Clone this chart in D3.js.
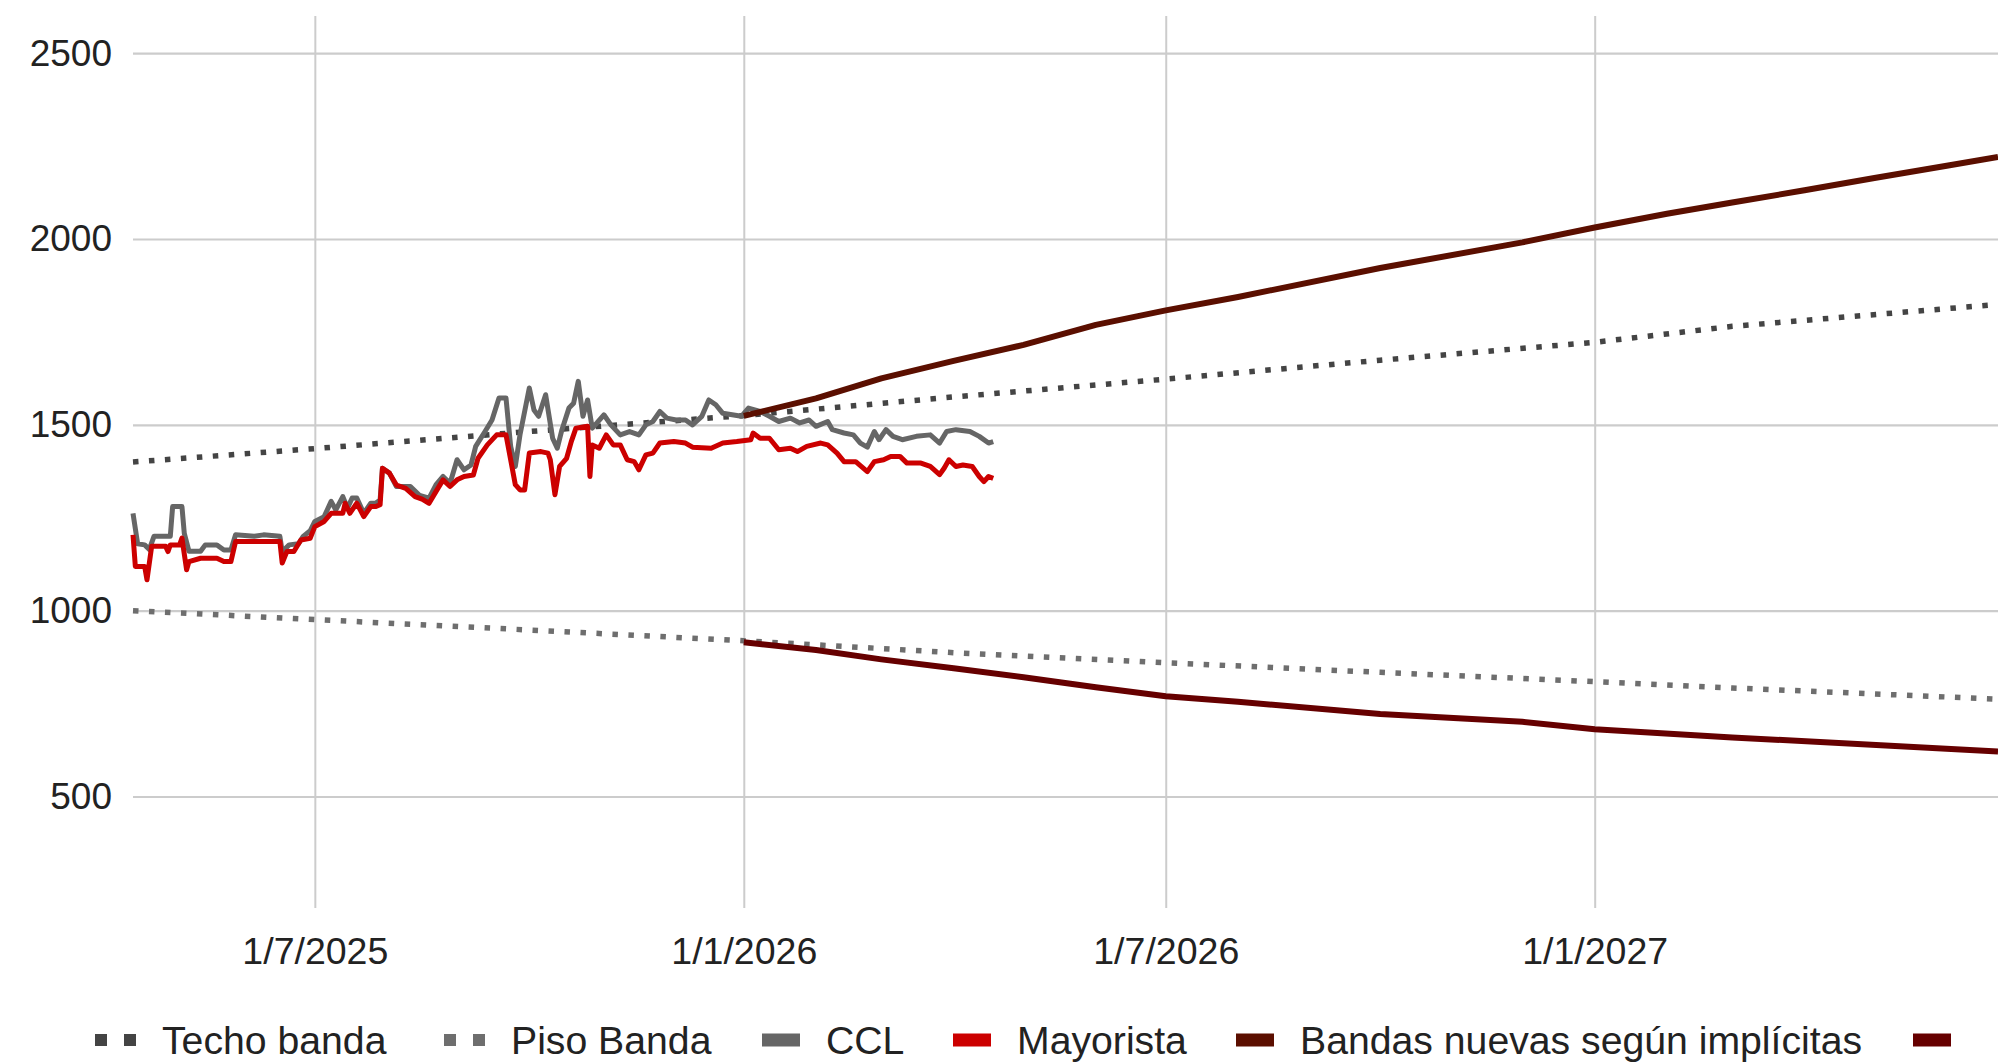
<!DOCTYPE html>
<html><head><meta charset="utf-8">
<script src="https://cdn.jsdelivr.net/npm/d3@7"></script>
<style>html,body{margin:0;padding:0;background:#fff;overflow:hidden}</style>
</head><body>
<svg id="chart" width="1998" height="1062"></svg>
<script>
// ---------------- DATA ----------------
const yTickValues = [500, 1000, 1500, 2000, 2500];
const xTickDates = ["2025-07-01", "2026-01-01", "2026-07-01", "2027-01-01"];
const xDomain = ["2025-04-14", "2027-06-23"];
const yDomain = [200, 2600];

const seriesNames = ["Techo banda", "Piso Banda", "CCL", "Mayorista", "Bandas nuevas según implícitas", ""];

const techoBanda = [
  ["2025-04-14",1400],["2025-07-01",1436],["2025-10-01",1482],["2026-01-01",1525],
  ["2026-04-01",1575],["2026-07-01",1623],["2026-10-01",1674],["2027-01-01",1722],
  ["2027-03-01",1765],["2027-06-23",1824]
];
const pisoBanda = [
  ["2025-04-14",1000],["2025-07-01",976],["2025-10-01",948],["2026-01-01",919],
  ["2026-04-01",887],["2026-07-01",860],["2026-10-01",834],["2027-01-01",809],
  ["2027-03-01",792],["2027-06-23",762]
];
const ccl = [
  ["2025-04-14",1262],["2025-04-16",1180],["2025-04-19",1177],["2025-04-21",1165],["2025-04-23",1200],
  ["2025-04-30",1200],["2025-05-01",1280],["2025-05-05",1280],["2025-05-06",1208],["2025-05-08",1160],
  ["2025-05-13",1160],["2025-05-15",1177],["2025-05-20",1177],["2025-05-23",1163],["2025-05-26",1163],
  ["2025-05-28",1204],["2025-06-05",1200],["2025-06-09",1204],["2025-06-16",1200],["2025-06-17",1159],
  ["2025-06-20",1177],["2025-06-24",1180],["2025-06-26",1200],["2025-06-29",1215],["2025-07-01",1240],
  ["2025-07-05",1253],["2025-07-08",1294],["2025-07-10",1271],["2025-07-13",1307],["2025-07-15",1276],
  ["2025-07-17",1303],["2025-07-19",1303],["2025-07-22",1262],["2025-07-25",1289],["2025-07-27",1289],
  ["2025-07-29",1298],["2025-07-30",1383],["2025-08-02",1370],["2025-08-05",1334],["2025-08-11",1334],
  ["2025-08-15",1310],["2025-08-19",1303],["2025-08-22",1339],["2025-08-25",1361],["2025-08-28",1343],
  ["2025-08-31",1406],["2025-09-03",1379],["2025-09-06",1392],["2025-09-08",1442],["2025-09-12",1482],
  ["2025-09-15",1513],["2025-09-18",1572],["2025-09-21",1572],["2025-09-23",1442],["2025-09-25",1388],
  ["2025-09-27",1473],["2025-10-01",1599],["2025-10-03",1540],["2025-10-05",1523],["2025-10-08",1581],
  ["2025-10-11",1464],["2025-10-13",1437],["2025-10-15",1487],["2025-10-18",1545],["2025-10-20",1558],
  ["2025-10-22",1617],["2025-10-24",1523],["2025-10-26",1567],["2025-10-28",1491],["2025-10-30",1505],
  ["2025-11-02",1527],["2025-11-05",1500],["2025-11-09",1473],["2025-11-13",1482],["2025-11-17",1473],
  ["2025-11-20",1500],["2025-11-23",1509],["2025-11-26",1536],["2025-11-29",1518],["2025-12-03",1513],
  ["2025-12-07",1513],["2025-12-10",1500],["2025-12-14",1523],["2025-12-17",1567],["2025-12-20",1554],
  ["2025-12-23",1531],["2025-12-27",1527],["2025-12-31",1523],["2026-01-03",1545],["2026-01-08",1536],
  ["2026-01-12",1523],["2026-01-16",1509],["2026-01-21",1518],["2026-01-25",1505],["2026-01-29",1513],
  ["2026-02-01",1496],["2026-02-06",1509],["2026-02-08",1487],["2026-02-13",1478],["2026-02-17",1473],
  ["2026-02-20",1451],["2026-02-23",1440],["2026-02-26",1482],["2026-02-28",1460],["2026-03-03",1487],
  ["2026-03-06",1469],["2026-03-10",1460],["2026-03-16",1469],["2026-03-22",1473],["2026-03-26",1451],
  ["2026-03-29",1482],["2026-04-02",1487],["2026-04-08",1482],["2026-04-12",1469],["2026-04-16",1451],
  ["2026-04-18",1455]
];
const mayorista = [
  ["2025-04-14",1204],["2025-04-15",1119],["2025-04-19",1119],["2025-04-20",1083],["2025-04-22",1173],
  ["2025-04-28",1173],["2025-04-29",1159],["2025-04-30",1177],["2025-05-04",1177],["2025-05-05",1195],
  ["2025-05-07",1110],["2025-05-08",1132],["2025-05-13",1141],["2025-05-20",1141],["2025-05-23",1132],
  ["2025-05-26",1132],["2025-05-28",1186],["2025-06-16",1186],["2025-06-17",1128],["2025-06-19",1159],
  ["2025-06-22",1159],["2025-06-25",1190],["2025-06-29",1195],["2025-07-01",1226],["2025-07-05",1240],
  ["2025-07-08",1262],["2025-07-13",1262],["2025-07-14",1289],["2025-07-16",1262],["2025-07-19",1289],
  ["2025-07-22",1253],["2025-07-25",1280],["2025-07-27",1280],["2025-07-29",1285],["2025-07-30",1383],
  ["2025-08-02",1370],["2025-08-05",1338],["2025-08-09",1329],["2025-08-13",1307],["2025-08-16",1300],
  ["2025-08-19",1289],["2025-08-22",1321],["2025-08-25",1352],["2025-08-28",1334],["2025-08-31",1352],
  ["2025-09-03",1361],["2025-09-07",1365],["2025-09-09",1410],["2025-09-13",1446],["2025-09-17",1473],
  ["2025-09-21",1473],["2025-09-23",1406],["2025-09-25",1339],["2025-09-27",1325],["2025-09-29",1325],
  ["2025-10-01",1424],["2025-10-06",1428],["2025-10-09",1424],["2025-10-10",1406],["2025-10-12",1312],
  ["2025-10-14",1388],["2025-10-17",1410],["2025-10-19",1455],["2025-10-21",1491],["2025-10-26",1496],
  ["2025-10-27",1361],["2025-10-28",1446],["2025-10-31",1437],["2025-11-03",1473],["2025-11-06",1446],
  ["2025-11-09",1446],["2025-11-12",1406],["2025-11-15",1401],["2025-11-17",1379],["2025-11-20",1419],
  ["2025-11-23",1424],["2025-11-26",1451],["2025-12-02",1455],["2025-12-07",1451],["2025-12-10",1440],
  ["2025-12-18",1437],["2025-12-23",1451],["2025-12-29",1455],["2026-01-04",1460],["2026-01-05",1478],
  ["2026-01-08",1464],["2026-01-12",1464],["2026-01-16",1433],["2026-01-21",1437],["2026-01-24",1428],
  ["2026-01-28",1442],["2026-02-03",1451],["2026-02-06",1446],["2026-02-10",1424],["2026-02-13",1401],
  ["2026-02-18",1401],["2026-02-23",1374],["2026-02-26",1401],["2026-03-02",1406],["2026-03-05",1415],
  ["2026-03-09",1415],["2026-03-12",1397],["2026-03-18",1397],["2026-03-22",1388],["2026-03-26",1366],
  ["2026-03-28",1384],["2026-03-30",1406],["2026-04-02",1388],["2026-04-05",1392],["2026-04-09",1388],
  ["2026-04-12",1361],["2026-04-14",1347],["2026-04-16",1361],["2026-04-18",1356]
];
const bandaNuevaTecho = [
  ["2026-01-01",1524],["2026-02-01",1571],["2026-03-01",1625],["2026-04-01",1672],["2026-05-01",1715],
  ["2026-06-01",1769],["2026-07-01",1808],["2026-08-01",1844],["2026-10-01",1922],["2026-12-01",1991],
  ["2027-01-01",2031],["2027-02-01",2068],["2027-03-01",2098],["2027-04-01",2131],["2027-05-01",2164],
  ["2027-06-01",2197],["2027-06-23",2221]
];
const bandaNuevaPiso = [
  ["2026-01-01",915],["2026-02-01",894],["2026-03-01",869],["2026-04-01",845],["2026-05-01",821],
  ["2026-06-01",794],["2026-07-01",770],["2026-08-01",755],["2026-10-01",722],["2026-12-01",701],
  ["2027-01-01",681],["2027-03-01",659],["2027-06-23",621]
];

// ---------------- CHART ----------------
const parse = d3.timeParse("%Y-%m-%d");
const FONT = "'Liberation Sans', Arial, Helvetica, sans-serif";
const svg = d3.select("#chart");
svg.append("rect").attr("width",1998).attr("height",1062).attr("fill","#fff");

const plotL = 133, plotR = 1998, plotT = 16, plotB = 908;
const x = d3.scaleTime().domain(xDomain.map(parse)).range([plotL, plotR]);
const y = d3.scaleLinear().domain(yDomain).range([plotB, plotT]);

// Y axis with horizontal gridlines
const yAxis = svg.append("g").attr("transform", `translate(${plotL},0)`)
  .call(d3.axisLeft(y).tickValues(yTickValues).tickSize(-(plotR-plotL)).tickPadding(21).tickFormat(d3.format("d")));
yAxis.select(".domain").remove();
yAxis.selectAll(".tick line").attr("stroke","#cccccc").attr("stroke-width",2.2);
yAxis.selectAll(".tick text").attr("fill","#222").style("font-family",FONT).style("font-size","37px");

// X axis with vertical gridlines
const fmt = d => `${d.getDate()}/${d.getMonth()+1}/${d.getFullYear()}`;
const xAxis = svg.append("g").attr("transform", `translate(0,${plotB})`)
  .call(d3.axisBottom(x).tickValues(xTickDates.map(parse)).tickSize(-(plotB-plotT)).tickPadding(29).tickFormat(fmt));
xAxis.select(".domain").remove();
xAxis.selectAll(".tick line").attr("stroke","#cccccc").attr("stroke-width",2);
xAxis.selectAll(".tick text").attr("fill","#222").style("font-family",FONT).style("font-size","37.5px");

const line = d3.line().x(d => x(parse(d[0]))).y(d => y(d[1]));

const styles = [
  {data: techoBanda, color:"#444444", width:5.5, dash:"5.5,10.5", name: seriesNames[0], dotted:true},
  {data: pisoBanda, color:"#6e6e6e", width:5.5, dash:"5.5,10.5", name: seriesNames[1], dotted:true},
  {data: ccl, color:"#666666", width:5, dash:null, name: seriesNames[2]},
  {data: mayorista, color:"#cc0000", width:5, dash:null, name: seriesNames[3]},
  {data: bandaNuevaTecho, color:"#5b0f00", width:6, dash:null, name: seriesNames[4]},
  {data: bandaNuevaPiso, color:"#660000", width:6, dash:null, name: seriesNames[5]}
];

const lines = svg.append("g");
styles.forEach(s => {
  lines.append("path").datum(s.data)
    .attr("d", line)
    .attr("fill","none")
    .attr("stroke", s.color)
    .attr("stroke-width", s.width)
    .attr("stroke-linejoin","round")
    .attr("stroke-linecap","butt")
    .attr("stroke-dasharray", s.dash);
});

// Legend (item start positions follow the reference layout)
const legendX = [95, 444, 762, 953, 1236, 1913];
const legend = svg.append("g").attr("transform","translate(0,1040)");
styles.forEach((s, i) => {
  const g = legend.append("g");
  const cx = legendX[i];
  let mw;
  if (s.dotted) {
    g.append("rect").attr("x",cx).attr("y",-6).attr("width",12).attr("height",12).attr("fill",s.color);
    g.append("rect").attr("x",cx+29).attr("y",-6).attr("width",12).attr("height",12).attr("fill",s.color);
    mw = 41;
  } else {
    g.append("rect").attr("x",cx).attr("y",-6.5).attr("width",38).attr("height",13).attr("fill",s.color);
    mw = 38;
  }
  if (s.name) {
    g.append("text").attr("x", cx + mw + 26).attr("y", 0).attr("dy","0.35em")
      .attr("fill","#222").style("font-family",FONT).style("font-size","39.2px").text(s.name);
  }
});
</script>
</body></html>
